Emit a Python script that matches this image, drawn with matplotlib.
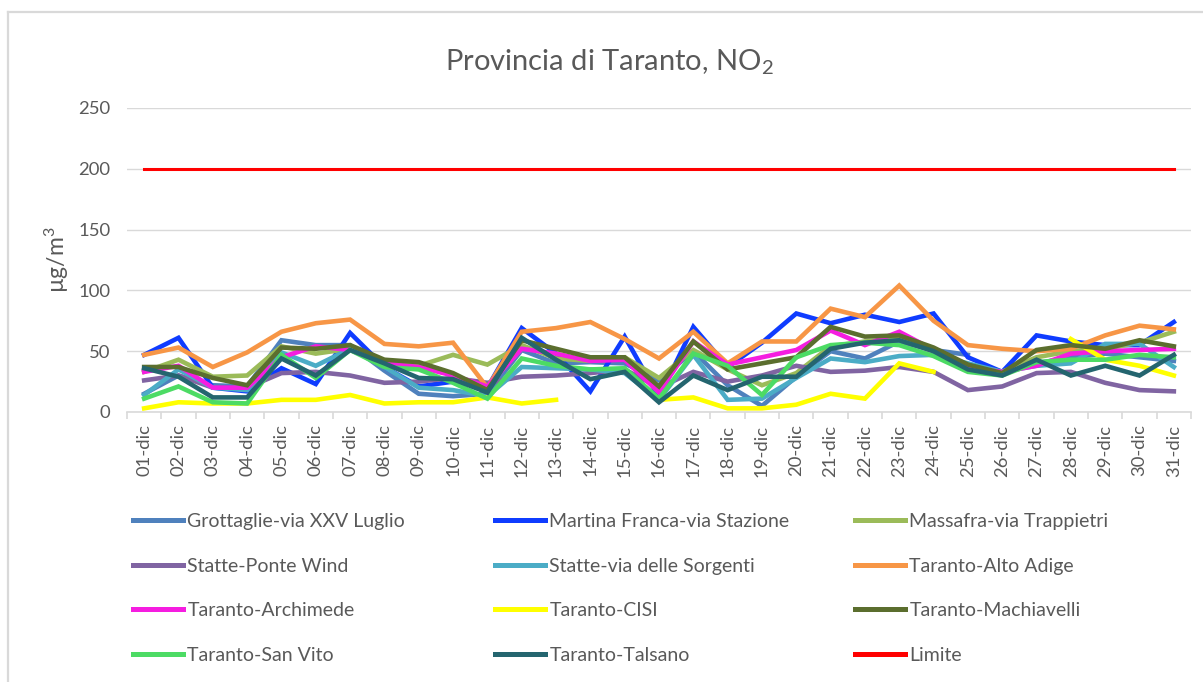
import numpy as np
import matplotlib
matplotlib.use("Agg")
import matplotlib.pyplot as plt
from matplotlib.lines import Line2D

plt.rcParams['font.family'] = ['Lato', 'DejaVu Sans']
plt.rcParams['mathtext.fontset'] = 'custom'
plt.rcParams['mathtext.rm'] = 'Lato'
plt.rcParams['mathtext.it'] = 'Lato'
plt.rcParams['mathtext.bf'] = 'Lato'

nan = np.nan

days = ['01-dic', '02-dic', '03-dic', '04-dic', '05-dic', '06-dic', '07-dic', '08-dic',
        '09-dic', '10-dic', '11-dic', '12-dic', '13-dic', '14-dic', '15-dic', '16-dic',
        '17-dic', '18-dic', '19-dic', '20-dic', '21-dic', '22-dic', '23-dic', '24-dic',
        '25-dic', '26-dic', '27-dic', '28-dic', '29-dic', '30-dic', '31-dic']

# NO2 daily values (ug/m3)
grottaglie = [15, 30, 22, 21, 59, 55, 55, 34, 15, 13, 15, 51, 40, 41, 40, 26,
              50, 22, 5, 29, 50, 44, 58, 51, 47, nan, 40, 45, 48, 45, 42]
martina = [47, 61, 20, 17, 36, 23, 65, 37, 21, 25, 20, 69, 48, 17, 62, 12,
           70, 37, 57, 81, 73, 80, 74, 81, 45, 33, 63, 58, 55, 55, 74]
massafra = [33, 43, 29, 30, 54, 48, 52, 41, 38, 47, 39, 55, 44, 42, 45, 28,
            51, 35, 22, 32, 54, 58, 60, 50, 38, 33, 45, 50, 52, 57, 66]
statte_ponte = [26, 30, 20, 20, 32, 33, 30, 24, 25, 28, 24, 29, 30, 32, 35, 20,
                33, 25, 30, 38, 33, 34, 37, 33, 18, 21, 32, 33, 24, 18, 17]
statte_sorgenti = [14, 35, 20, 18, 49, 38, 52, 37, 20, 18, 13, 37, 36, 35, 32, 10,
                   47, 10, 11, 28, 44, 41, 46, 47, 40, 33, 38, 40, 56, 56, 37]
alto_adige = [47, 53, 37, 49, 66, 73, 76, 56, 54, 57, 20, 66, 69, 74, 60, 44,
              66, 40, 58, 58, 85, 78, 104, 75, 55, 52, 50, 52, 63, 71, 68]
archimede = [33, 38, 20, 20, 45, 54, 51, 40, 37, 30, 21, 52, 48, 42, 43, 16,
             58, 39, 45, 51, 67, 55, 66, 51, 36, 33, 38, 48, 50, 51, 52]
cisi = [3, 8, 7, 7, 10, 10, 14, 7, 8, 8, 12, 7, 10, nan, nan, 10,
        12, 3, 3, 6, 15, 11, 40, 33, nan, nan, nan, 60, 43, 38, 30]
machiavelli = [37, 37, 28, 22, 53, 52, 55, 43, 41, 32, 18, 59, 52, 45, 45, 21,
               58, 35, 40, 45, 70, 62, 63, 53, 39, 32, 51, 55, 52, 59, 54]
san_vito = [11, 21, 8, 7, 47, 28, 51, 37, 35, 24, 11, 44, 38, 35, 36, 11,
            48, 38, 14, 45, 55, 57, 55, 46, 33, 30, 41, 43, 43, 47, 45]
talsano = [36, 29, 12, 12, 44, 30, 51, 40, 28, 27, 16, 61, 43, 27, 33, 8,
           30, 18, 29, 29, 52, 57, 59, 50, 35, 30, 43, 30, 38, 30, 47]
limite = [200, 200, 200, 200, 200, 200, 200, 200, 200, 200, 200, 200, 200, 200, 200, 200,
          200, 200, 200, 200, 200, 200, 200, 200, 200, 200, 200, 200, 200, 200, 200]

series = [
    ('Grottaglie-via XXV Luglio', grottaglie, '#4F81BD'),
    ('Martina Franca-via Stazione', martina, '#0F3CFF'),
    ('Massafra-via Trappietri', massafra, '#9BBB59'),
    ('Statte-Ponte Wind', statte_ponte, '#8064A2'),
    ('Statte-via delle Sorgenti', statte_sorgenti, '#4BACC6'),
    ('Taranto-Alto Adige', alto_adige, '#F79646'),
    ('Taranto-Archimede', archimede, '#F51DE0'),
    ('Taranto-CISI', cisi, '#FFFF00'),
    ('Taranto-Machiavelli', machiavelli, '#5B6E2E'),
    ('Taranto-San Vito', san_vito, '#4CDB64'),
    ('Taranto-Talsano', talsano, '#24656F'),
    ('Limite', limite, '#FF0000'),
]

W, H = 1203, 682
fig = plt.figure(figsize=(W / 100, H / 100), dpi=100)
text_col = '#595959'
grid_col = '#D9D9D9'

# outer chart border (only top and left visible in the crop)
fig.add_artist(Line2D([8 / W, 8 / W], [0, 1 - 12 / H], color=grid_col, lw=1.6))
fig.add_artist(Line2D([8 / W, 1], [1 - 12 / H, 1 - 12 / H], color=grid_col, lw=1.6))

ax = fig.add_axes([127 / W, 1 - 412 / H, (1191 - 127) / W, (412 - 108) / H])
x = np.arange(len(days))

handles = []
for name, vals, col in series:
    lw = 2.2 if name == 'Limite' else 3.3
    ln, = ax.plot(x, vals, color=col, lw=lw, solid_joinstyle='miter', label=name)
    handles.append(ln)

ax.set_xlim(-0.5, len(days) - 0.5)
ax.set_ylim(0, 250)
ax.set_yticks([0, 50, 100, 150, 200, 250])
ax.yaxis.grid(True, color=grid_col, lw=1)
ax.set_axisbelow(True)
for s in ['top', 'right', 'left']:
    ax.spines[s].set_visible(False)
ax.spines['bottom'].set_color(grid_col)
ax.spines['bottom'].set_linewidth(1.2)

ax.set_xticks(x)
ax.set_xticklabels(days, rotation=90)
ax.set_xticks(np.arange(len(days) + 1) - 0.5, minor=True)
ax.tick_params(axis='x', which='major', length=0, pad=9, labelsize=13.3, labelcolor=text_col)
ax.tick_params(axis='x', which='minor', length=5, width=1.2, color=grid_col)
ax.tick_params(axis='y', length=0, pad=12, labelsize=13.3, labelcolor=text_col)

fig.text(609 / W, 1 - 62 / H, 'Provincia di Taranto, NO$_2$', ha='center', va='center',
         fontsize=21, color=text_col)
fig.text(57 / W, 1 - 260 / H, 'µg/m$^3$', ha='center', va='center', rotation=90,
         fontsize=16.5, color=text_col)

# legend: three columns, filled row by row
col_x = [133, 495, 855]
for c in range(3):
    hs = handles[c::3]
    leg = fig.legend(handles=hs, labels=[h.get_label() for h in hs], loc='upper left',
                     bbox_to_anchor=(col_x[c] / W, 1 - 513 / H), frameon=False,
                     fontsize=14, handlelength=2.57, handletextpad=0.22,
                     labelspacing=1.42, borderpad=0, borderaxespad=0)
    for t in leg.get_texts():
        t.set_color(text_col)
    for lh in leg.get_lines():
        lh.set_linewidth(3.6)

fig.savefig('out.png', dpi=100)
